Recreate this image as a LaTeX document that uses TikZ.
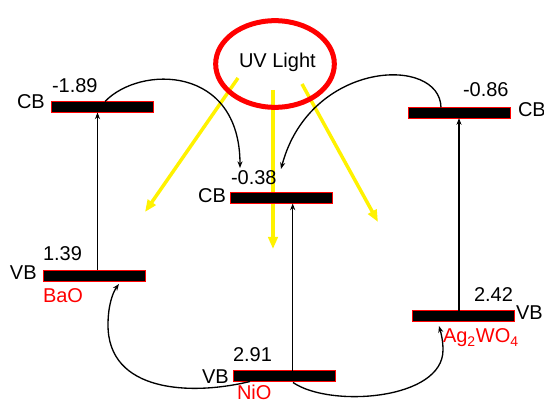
\documentclass[tikz,border=0pt]{standalone}
\usepackage{fontspec}
\setmainfont{Liberation Sans}
\usetikzlibrary{arrows.meta,shapes.geometric}
\begin{document}
\begin{tikzpicture}[x=0.75pt,y=-0.75pt,
  bar/.style={draw=red,fill=black,line width=0.6pt,minimum width=76.5pt,minimum height=8.2pt,inner sep=0pt,outer sep=0pt},
  lbl/.style={inner sep=0pt,outer sep=0pt,font=\fontsize{15}{18}\selectfont},
  mat/.style={lbl,text=red},
  excite/.style={-{Stealth[length=5pt,width=3.8pt]},line width=1pt},
  transfer/.style={-{Stealth[length=5pt,width=3.8pt]},line width=1pt},
  light/.style={draw=yellow,line width=2.6pt,-{Triangle[length=9pt,width=7pt]}},
  uvring/.style={ellipse,draw=red,line width=3.75pt,minimum width=89pt,minimum height=65pt,inner sep=0pt}
]
\useasboundingbox (0,0) rectangle (544,403);

% light rays
\coordinate (l1s) at (238,78);  \coordinate (l1e) at (145,212);
\coordinate (l2s) at (273,90);  \coordinate (l2e) at (273,249);
\coordinate (l3s) at (302,84);  \coordinate (l3e) at (378,222);
\draw[light] (l1s) -- (l1e);
\draw[light] (l2s) -- (l2e);
\draw[light] (l3s) -- (l3e);

% UV source
\node[uvring] (uv) at (275,64) {};
\node[lbl,anchor=base west] (uvt) at (239,68) {UV Light};

% band bars
\node[bar] (baocb) at (102,107) {};
\node[bar] (baovb) at (94.5,275.5) {};
\node[bar] (niocb) at (281.7,198) {};
\node[bar] (niovb) at (284.5,376) {};
\node[bar] (agcb) at (459,112.7) {};
\node[bar] (agvb) at (463,316) {};

% excitation arrows
\coordinate (xb) at (97.5,0);
\coordinate (xn) at (292.7,0);
\coordinate (xa) at (459,0);
\draw[excite] (baovb.north -| xb) -- (baocb.south -| xb);
\draw[excite] (niovb.north -| xn) -- (niocb.south -| xn);
\draw[excite] (agvb.north -| xa) -- (agcb.south -| xa);

% electron transfer
\coordinate (s1) at (105,101.5); \coordinate (t1) at (240,168);
\coordinate (s2) at (441,107.5); \coordinate (t2) at (281,169);
\draw[transfer] (s1) .. controls (140,65) and (240,65) .. (t1);
\draw[transfer] (s2) .. controls (440,55) and (310,60) .. (t2);

% hole transfer
\coordinate (s3) at (250,381.5); \coordinate (m3) at (108,325); \coordinate (t3) at (119,284);
\coordinate (s4) at (293,382.5); \coordinate (m4) at (443,350); \coordinate (t4) at (439,326);
\draw[transfer] (s3) .. controls (190,396) and (108,392) .. (m3) .. controls (108,305) and (113,292) .. (t3);
\draw[transfer] (s4) .. controls (330,408) and (443,400) .. (m4) .. controls (443,340) and (441,333) .. (t4);

% labels
\node[lbl,anchor=base west] (e1) at (52,93) {-1.89};
\node[lbl,anchor=base west] (c1) at (17,109) {CB};
\node[lbl,anchor=base west] (e2) at (43,261) {1.39};
\node[lbl,anchor=base west] (v1) at (10,279.5) {VB};
\node[mat,anchor=base west] (m1) at (43,303) {BaO};

\node[lbl,anchor=base west] (e3) at (231,185) {-0.38};
\node[lbl,anchor=base east] (c2) at (226,203) {CB};
\node[lbl,anchor=base west] (e4) at (233,362) {2.91};
\node[lbl,anchor=base west] (v2) at (202,383) {VB};
\node[mat,anchor=base west] (m2) at (237,400) {NiO};

\node[lbl,anchor=base west] (e5) at (463,97) {-0.86};
\node[lbl,anchor=base west] (c3) at (518,117) {CB};
\node[lbl,anchor=base west] (e6) at (474,301) {2.42};
\node[lbl,anchor=base west] (v3) at (516,320) {VB};
\node[mat,anchor=base west] (m3t) at (443,343) {Ag\textsubscript{2}WO\textsubscript{4}};
\end{tikzpicture}
\end{document}
